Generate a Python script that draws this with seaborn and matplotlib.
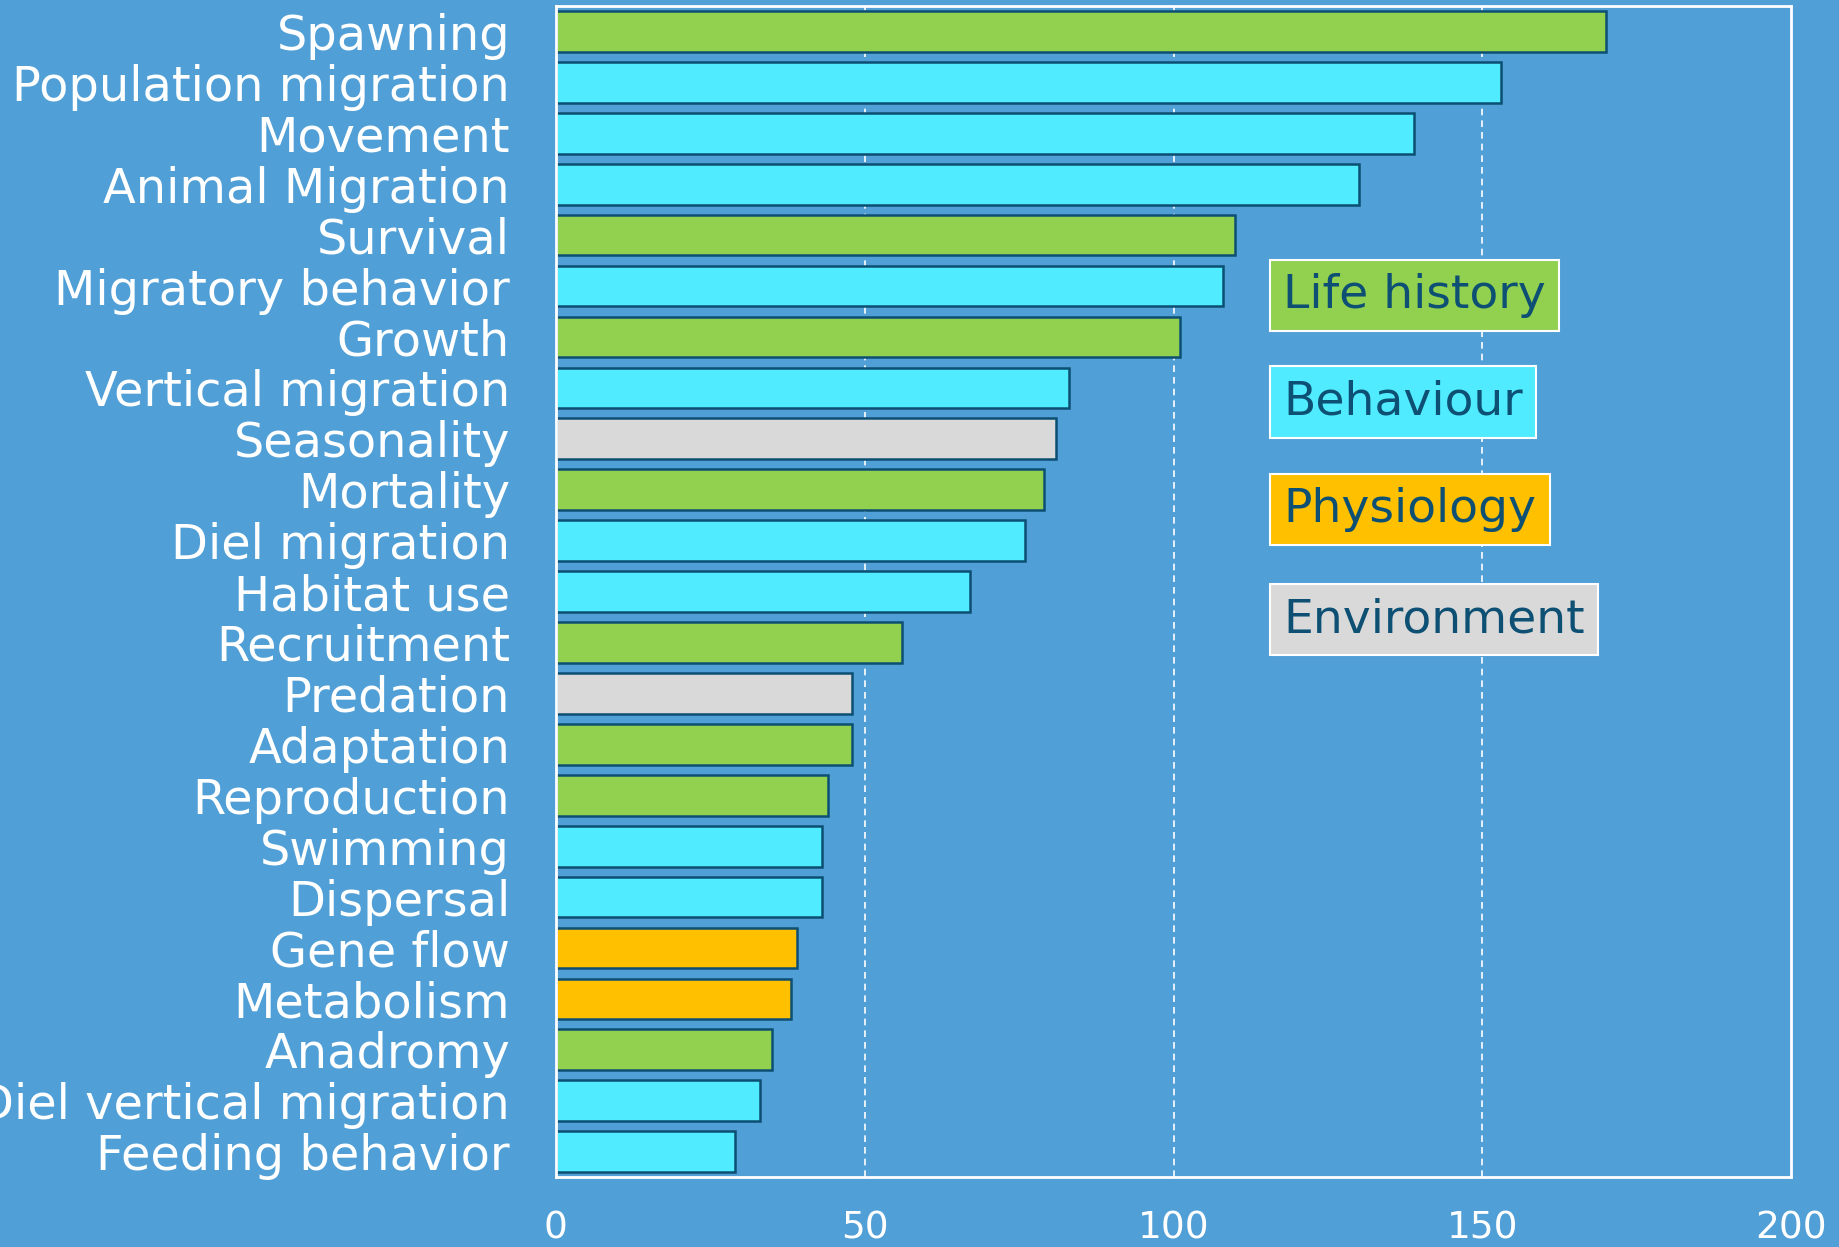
import numpy as np
import pandas as pd
import matplotlib
matplotlib.use('Agg')
import matplotlib.pyplot as plt
import seaborn as sns

# Data
terms = ['Spawning', 'Population migration', 'Movement', 'Animal Migration', 'Survival',
         'Migratory behavior', 'Growth', 'Vertical migration', 'Seasonality', 'Mortality',
         'Diel migration', 'Habitat use', 'Recruitment', 'Predation', 'Adaptation',
         'Reproduction', 'Swimming', 'Dispersal', 'Gene flow', 'Metabolism', 'Anadromy',
         'Diel vertical migration', 'Feeding behavior']
counts = [170, 153, 139, 130, 110, 108, 101, 83, 81, 79, 76, 67, 56, 48, 48, 44, 43, 43,
          39, 38, 35, 33, 29]
groups = ['Life history', 'Behaviour', 'Behaviour', 'Behaviour', 'Life history',
          'Behaviour', 'Life history', 'Behaviour', 'Environment', 'Life history',
          'Behaviour', 'Behaviour', 'Life history', 'Environment', 'Life history',
          'Life history', 'Behaviour', 'Behaviour', 'Physiology', 'Physiology',
          'Life history', 'Behaviour', 'Behaviour']
group_names = ['Life history', 'Behaviour', 'Physiology', 'Environment']
group_colors = ['#92D050', '#50EBFF', '#FFC000', '#D9D9D9']
x_ticks = [0, 50, 100, 150, 200]

BG = '#509FD6'
EDGE = '#0D4F72'
TEXT_DARK = '#0D5074'

df = pd.DataFrame({'term': terms, 'count': counts, 'group': groups})
palette = dict(zip(group_names, group_colors))

sns.set_theme(style='white')
plt.rcParams['font.family'] = ['DejaVu Sans']

fig = plt.figure(figsize=(18.39, 12.47), dpi=100, facecolor=BG)
ax = fig.add_axes([0.3023, 0.056, 0.6717, 0.9392])
ax.set_facecolor(BG)

sns.barplot(data=df, x='count', y='term', hue='group', palette=palette, order=terms,
            dodge=False, width=0.8, saturation=1, edgecolor=EDGE, linewidth=1.8,
            legend=False, ax=ax)

ax.set_xlim(0, 200)
ax.set_ylim(len(terms) - 0.5, -0.5)
ax.set_xticks(x_ticks)
ax.set_xticklabels([str(t) for t in x_ticks])
ax.set_xlabel('')
ax.set_ylabel('')

# dashed vertical gridlines
for t in x_ticks[1:-1]:
    ax.axvline(t, color='white', linestyle=(0, (4, 3)), linewidth=1.2, zorder=0)

for s in ax.spines.values():
    s.set_color('white')
    s.set_linewidth(2)

ax.set_yticks(np.arange(-0.5, len(terms), 1), minor=True)
ax.tick_params(axis='y', which='major', length=0, pad=33, labelsize=34.5, labelcolor='white')
ax.tick_params(axis='y', which='minor', length=10, width=1.5, color='white')
ax.tick_params(axis='x', which='major', length=13, width=1.5, color='white', pad=11,
               labelsize=27, labelcolor='white', direction='out')
ax.tick_params(axis='x', which='minor', length=0)

# category legend as boxed labels
legend_y = [0.753, 0.662, 0.570, 0.476]
for name, col, yy in zip(group_names, group_colors, legend_y):
    ax.text(117.8, yy, name, transform=ax.get_xaxis_transform(), ha='left', va='center',
            fontsize=34, color=TEXT_DARK,
            bbox=dict(boxstyle='square,pad=0.28', facecolor=col, edgecolor='white', linewidth=1.5))

fig.savefig('out.png', dpi=100, facecolor=BG)
